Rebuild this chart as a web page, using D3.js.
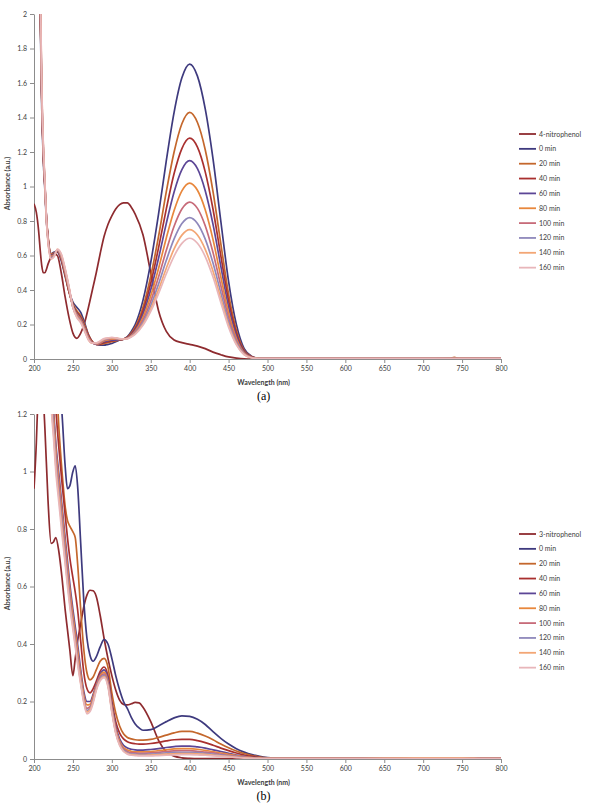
<!DOCTYPE html>
<html>
<head>
<meta charset="utf-8">
<script src="https://cdn.jsdelivr.net/npm/d3@7/dist/d3.min.js"></script>
<style>
body { margin: 0; background: #fff; }
svg text { font-family: Lato, "Open Sans", sans-serif; }
</style>
</head>
<body>
<div id="chart"></div>
<script>
// legend labels
var names_a = ['4-nitrophenol', '0 min', '20 min', '40 min', '60 min', '80 min', '100 min', '120 min', '140 min', '160 min'];
var names_b = ['3-nitrophenol', '0 min', '20 min', '40 min', '60 min', '80 min', '100 min', '120 min', '140 min', '160 min'];
var colors = ['#8E2B2F', '#3E3A7E', '#C4672C', '#A9302F', '#5C4696', '#E8873C', '#C76B79', '#8F88BB', '#F3A675', '#E8B6BA'];

var x_ticks = [200, 250, 300, 350, 400, 450, 500, 550, 600, 650, 700, 750, 800];
var y_ticks_a = [0, 0.2, 0.4, 0.6, 0.8, 1, 1.2, 1.4, 1.6, 1.8, 2];
var y_ticks_b = [0, 0.2, 0.4, 0.6, 0.8, 1, 1.2];

// (a) 4-nitrophenol
var wl_a = [200,203,206,208,210,212,214,216,218,222,226,230,235,240,245,250,255,260,265,270,275,280,285,290,295,300,305,310,315,320,325,330,340,350,360,370,380,390,400,410,420,430,440,450,460,470,480,490,500,550,600,650,700,735,740,745,800];
var a_np    = [0.9,0.85,0.74,0.63,0.54,0.5,0.5,0.52,0.55,0.59,0.61,0.6,0.5,0.36,0.24,0.15,0.12,0.15,0.21,0.3,0.4,0.5,0.61,0.71,0.78,0.83,0.87,0.895,0.905,0.905,0.88,0.84,0.72,0.5,0.28,0.16,0.11,0.095,0.085,0.075,0.06,0.04,0.025,0.012,0.005,0.001,0,0,0,0,0,0,0,0,0,0,0];
var a_0     = [4,3.2,2.4,2.0,1.45,1.15,0.98,0.8,0.7,0.61,0.62,0.62,0.57,0.48,0.39,0.33,0.3,0.27,0.21,0.14,0.1,0.085,0.08,0.08,0.085,0.09,0.1,0.11,0.115,0.13,0.16,0.2,0.34,0.56,0.84,1.15,1.43,1.63,1.71,1.64,1.45,1.16,0.8,0.45,0.2,0.06,0.015,0.003,0.002,0.002,0.002,0.002,0.002,0.002,0.002,0.002,0.002];
var a_20    = [4,3.25,2.45,2.05,1.5,1.18,1.0,0.82,0.71,0.61,0.615,0.625,0.58,0.49,0.39,0.32,0.28,0.25,0.2,0.14,0.1,0.085,0.085,0.09,0.095,0.1,0.105,0.11,0.115,0.127,0.15,0.184,0.3,0.48,0.71,0.97,1.2,1.364,1.43,1.371,1.213,0.97,0.669,0.376,0.167,0.05,0.013,0.003,0.002,0.002,0.002,0.002,0.002,0.004,0.009,0.004,0.002];
var a_40    = [4,3.25,2.5,2.05,1.5,1.18,1.0,0.82,0.71,0.6,0.61,0.625,0.58,0.49,0.39,0.31,0.27,0.24,0.19,0.135,0.1,0.085,0.088,0.095,0.1,0.105,0.108,0.11,0.115,0.125,0.145,0.176,0.278,0.439,0.644,0.87,1.075,1.22,1.28,1.228,1.085,0.868,0.599,0.337,0.15,0.045,0.012,0.003,0.002,0.002,0.002,0.002,0.002,0.002,0.002,0.002,0.002];
var a_60    = [4,3.3,2.5,2.1,1.52,1.2,1.01,0.82,0.7,0.6,0.61,0.63,0.585,0.5,0.4,0.31,0.265,0.235,0.185,0.13,0.095,0.085,0.09,0.1,0.105,0.11,0.11,0.112,0.115,0.123,0.14,0.168,0.26,0.402,0.584,0.786,0.968,1.098,1.15,1.103,0.975,0.78,0.538,0.302,0.135,0.04,0.01,0.003,0.002,0.002,0.002,0.002,0.002,0.002,0.002,0.002,0.002];
var a_80    = [4,3.3,2.55,2.1,1.52,1.2,1.01,0.81,0.7,0.595,0.605,0.63,0.59,0.5,0.4,0.305,0.26,0.23,0.18,0.125,0.095,0.087,0.092,0.105,0.11,0.115,0.115,0.113,0.115,0.121,0.137,0.161,0.241,0.366,0.525,0.702,0.861,0.975,1.02,0.978,0.865,0.692,0.477,0.268,0.119,0.036,0.009,0.003,0.002,0.002,0.002,0.002,0.002,0.002,0.002,0.002,0.002];
var a_100   = [4,3.35,2.55,2.15,1.55,1.22,1.02,0.81,0.69,0.59,0.6,0.632,0.595,0.51,0.41,0.3,0.255,0.225,0.175,0.12,0.093,0.088,0.095,0.11,0.115,0.12,0.118,0.115,0.115,0.12,0.134,0.155,0.225,0.335,0.475,0.63,0.77,0.87,0.91,0.873,0.772,0.617,0.426,0.239,0.106,0.032,0.008,0.002,0.002,0.002,0.002,0.002,0.002,0.002,0.002,0.002,0.002];
var a_120   = [4,3.35,2.6,2.15,1.55,1.22,1.02,0.8,0.69,0.585,0.6,0.633,0.6,0.515,0.41,0.3,0.25,0.22,0.17,0.115,0.092,0.09,0.1,0.112,0.118,0.122,0.12,0.116,0.116,0.119,0.132,0.15,0.212,0.31,0.434,0.572,0.696,0.785,0.82,0.786,0.695,0.556,0.384,0.216,0.096,0.029,0.007,0.002,0.002,0.002,0.002,0.002,0.002,0.002,0.002,0.002,0.002];
var a_140   = [4,3.4,2.6,2.2,1.58,1.24,1.03,0.8,0.68,0.58,0.595,0.635,0.605,0.52,0.415,0.3,0.245,0.215,0.165,0.112,0.092,0.092,0.102,0.115,0.12,0.123,0.121,0.117,0.116,0.118,0.13,0.146,0.202,0.29,0.402,0.526,0.638,0.718,0.75,0.719,0.636,0.509,0.351,0.197,0.088,0.026,0.007,0.002,0.002,0.002,0.002,0.002,0.002,0.002,0.002,0.002,0.002];
var a_160   = [4,3.4,2.65,2.2,1.58,1.24,1.03,0.8,0.68,0.58,0.595,0.636,0.61,0.525,0.42,0.3,0.24,0.21,0.16,0.11,0.092,0.093,0.105,0.118,0.122,0.125,0.122,0.118,0.116,0.117,0.128,0.143,0.195,0.276,0.379,0.494,0.597,0.67,0.7,0.671,0.594,0.475,0.328,0.184,0.082,0.025,0.006,0.002,0.002,0.002,0.002,0.002,0.002,0.002,0.002,0.002,0.002];

// (b) 3-nitrophenol
var wl_b = [200,203,205,208,211,214,218,222,225,228,232,236,240,243,246,250,253,256,260,264,268,272,276,280,285,290,295,300,305,310,315,320,325,330,335,340,350,360,370,380,390,400,410,420,430,440,450,460,470,480,490,500,510,520,550,600,650,700,750,780,800];
var b_np    = [0.94,1.1,1.25,1.35,1.3,1.15,0.9,0.75,0.755,0.77,0.72,0.63,0.52,0.45,0.38,0.29,0.35,0.41,0.47,0.53,0.57,0.587,0.585,0.565,0.5,0.42,0.35,0.29,0.24,0.205,0.19,0.188,0.192,0.197,0.195,0.18,0.13,0.065,0.025,0.01,0.004,0.002,0.001,0.001,0.001,0.001,0.001,0.001,0.001,0.001,0.001,0.001,0.001,0.001,0.001,0.001,0.001,0.001,0.001,0.001,0.001];
var b_0     = [4,3.6,3.3,3.0,2.7,2.4,2.1,1.8,1.6,1.45,1.32,1.2,1.02,0.94,0.95,1.0,1.02,0.95,0.75,0.55,0.42,0.36,0.34,0.355,0.39,0.415,0.4,0.35,0.29,0.24,0.2,0.175,0.145,0.122,0.108,0.1,0.102,0.115,0.13,0.143,0.15,0.148,0.138,0.12,0.095,0.072,0.052,0.036,0.024,0.015,0.009,0.005,0.003,0.002,0.002,0.002,0.002,0.002,0.002,0.002,0.002];
var b_20    = [4,3.6,3.3,3.0,2.7,2.4,2.0,1.7,1.5,1.35,1.15,1.0,0.88,0.83,0.81,0.79,0.77,0.68,0.52,0.38,0.3,0.275,0.285,0.31,0.34,0.35,0.32,0.23,0.16,0.115,0.088,0.075,0.07,0.067,0.066,0.066,0.068,0.075,0.083,0.091,0.096,0.096,0.09,0.08,0.067,0.052,0.039,0.028,0.019,0.012,0.007,0.004,0.003,0.003,0.003,0.003,0.003,0.004,0.004,0.003,0.002];
var b_40    = [4,3.6,3.3,3.0,2.6,2.3,1.9,1.5,1.35,1.22,1.08,0.96,0.85,0.77,0.7,0.63,0.58,0.52,0.41,0.3,0.245,0.23,0.245,0.27,0.305,0.32,0.29,0.2,0.13,0.09,0.07,0.06,0.055,0.053,0.052,0.052,0.054,0.058,0.063,0.067,0.068,0.068,0.064,0.057,0.048,0.038,0.029,0.021,0.014,0.009,0.005,0.003,0.002,0.002,0.002,0.002,0.002,0.002,0.003,0.002,0.002];
var b_60    = [4,3.6,3.3,3.0,2.6,2.2,1.8,1.35,1.22,1.1,0.99,0.88,0.77,0.69,0.61,0.52,0.46,0.4,0.31,0.235,0.2,0.2,0.225,0.26,0.295,0.31,0.28,0.19,0.115,0.07,0.048,0.038,0.034,0.032,0.031,0.031,0.033,0.036,0.04,0.043,0.045,0.045,0.042,0.038,0.032,0.026,0.02,0.014,0.01,0.006,0.004,0.002,0.002,0.002,0.002,0.002,0.002,0.002,0.002,0.002,0.002];
var b_80    = [4,3.6,3.3,3.0,2.6,2.2,1.8,1.32,1.2,1.08,0.97,0.86,0.75,0.67,0.59,0.5,0.44,0.38,0.295,0.222,0.188,0.19,0.218,0.255,0.29,0.302,0.27,0.18,0.105,0.062,0.04,0.031,0.027,0.025,0.025,0.025,0.026,0.029,0.032,0.035,0.036,0.036,0.034,0.03,0.026,0.021,0.016,0.012,0.008,0.005,0.003,0.002,0.002,0.002,0.002,0.002,0.003,0.004,0.004,0.002,0.002];
var b_100   = [4,3.6,3.3,3.0,2.6,2.2,1.8,1.3,1.18,1.06,0.95,0.84,0.73,0.65,0.57,0.48,0.42,0.36,0.28,0.212,0.176,0.182,0.21,0.25,0.285,0.296,0.265,0.175,0.1,0.057,0.035,0.026,0.022,0.021,0.02,0.02,0.021,0.023,0.026,0.028,0.029,0.029,0.027,0.024,0.021,0.017,0.013,0.01,0.007,0.004,0.002,0.001,0.001,0.001,0.001,0.001,0.001,0.001,0.001,0.001,0.001];
var b_120   = [4,3.6,3.3,3.0,2.6,2.2,1.75,1.28,1.16,1.04,0.93,0.82,0.71,0.63,0.55,0.47,0.41,0.35,0.27,0.205,0.169,0.176,0.205,0.246,0.28,0.291,0.26,0.17,0.095,0.053,0.031,0.022,0.018,0.017,0.016,0.016,0.017,0.019,0.021,0.023,0.023,0.023,0.022,0.02,0.017,0.014,0.011,0.008,0.005,0.003,0.002,0.001,0.001,0.001,0.001,0.001,0.001,0.001,0.001,0.001,0.001];
var b_140   = [4,3.6,3.3,3.0,2.6,2.2,1.75,1.26,1.14,1.02,0.91,0.8,0.69,0.615,0.54,0.46,0.4,0.34,0.265,0.2,0.163,0.171,0.2,0.242,0.276,0.287,0.256,0.166,0.092,0.05,0.028,0.019,0.015,0.014,0.013,0.013,0.014,0.015,0.017,0.018,0.019,0.019,0.018,0.016,0.014,0.011,0.009,0.006,0.004,0.003,0.002,0.001,0.001,0.001,0.001,0.001,0.002,0.003,0.003,0.001,0.001];
var b_160   = [4,3.6,3.3,3.0,2.6,2.2,1.7,1.24,1.12,1.0,0.89,0.78,0.68,0.6,0.53,0.45,0.39,0.33,0.26,0.195,0.157,0.165,0.195,0.238,0.272,0.283,0.252,0.162,0.089,0.047,0.026,0.017,0.013,0.012,0.011,0.011,0.011,0.012,0.013,0.014,0.015,0.015,0.014,0.013,0.011,0.009,0.007,0.005,0.003,0.002,0.001,0.001,0.001,0.001,0.001,0.001,0.001,0.001,0.001,0.001,0.001];

var width = 610, height = 803;
var plot_left = 34, plot_width = 467, plot_height = 345;
var axis_color = '#8c8c8c';

var svg = d3.select('#chart')
    .append('svg')
        .attr('width', width)
        .attr('height', height);

function draw_panel(id, top, y_max, y_ticks, wl, series, names, caption){
    var g = svg.append('g')
        .attr('transform', 'translate(' + plot_left + ',' + top + ')');

    var x_scale = d3.scaleLinear().domain([200, 800]).range([0, plot_width]);
    var y_scale = d3.scaleLinear().domain([0, y_max]).range([plot_height, 0]);

    g.append('clipPath')
        .attr('id', 'clip-' + id)
        .append('rect')
            .attr('x', 0)
            .attr('y', 0)
            .attr('width', plot_width)
            .attr('height', plot_height);

    var y_axis = g.append('g')
        .call(d3.axisLeft(y_scale).tickValues(y_ticks).tickSize(4).tickSizeOuter(0).tickFormat(d3.format('~g')));
    var x_axis = g.append('g')
        .attr('transform', 'translate(0,' + plot_height + ')')
        .call(d3.axisBottom(x_scale).tickValues(x_ticks).tickSize(4).tickSizeOuter(0));

    [x_axis, y_axis].forEach(function(ax){
        ax.select('.domain').attr('stroke', axis_color);
        ax.selectAll('.tick line').attr('stroke', axis_color);
        ax.selectAll('.tick text')
            .attr('fill', '#404040')
            .style('font-size', '7px')
            .style('font-family', 'Lato, sans-serif');
    });
    y_axis.selectAll('.tick text').attr('x', -7);
    x_axis.selectAll('.tick text').attr('y', 7);

    var line = d3.line()
        .x(function(d){ return x_scale(d[0]); })
        .y(function(d){ return y_scale(d[1]); })
        .curve(d3.curveMonotoneX);

    g.append('g')
        .attr('clip-path', 'url(#clip-' + id + ')')
        .selectAll('path')
        .data(series)
        .enter()
        .append('path')
            .attr('d', function(s){ return line(wl.map(function(w, i){ return [w, s[i]]; })); })
            .attr('fill', 'none')
            .attr('stroke', function(s, i){ return colors[i]; })
            .attr('stroke-width', 1.7)
            .attr('stroke-linejoin', 'round');

    // axis titles
    g.append('text')
        .attr('transform', 'translate(-24,' + (plot_height / 2 - 3) + ')rotate(-90)')
        .attr('text-anchor', 'middle')
        .style('font-size', '7px')
        .style('font-weight', 'bold')
        .attr('fill', '#404040')
        .text('Absorbance  (a.u.)');

    g.append('text')
        .attr('x', x_scale(495))
        .attr('y', plot_height + 26)
        .attr('text-anchor', 'middle')
        .style('font-size', '7px')
        .style('font-weight', 'bold')
        .attr('fill', '#404040')
        .text('Wavelength  (nm)');

    g.append('text')
        .attr('x', x_scale(495))
        .attr('y', plot_height + 41)
        .attr('text-anchor', 'middle')
        .style('font-family', '"Liberation Serif", serif')
        .style('font-size', '12px')
        .attr('fill', '#000')
        .text(caption);

    // legend
    var legend = svg.append('g')
        .attr('transform', 'translate(519,' + (top + 120) + ')');
    var rows = legend.selectAll('g')
        .data(names)
        .enter()
        .append('g')
            .attr('transform', function(d, i){ return 'translate(0,' + (i * 14.85) + ')'; });
    rows.append('line')
        .attr('x1', 0)
        .attr('x2', 17)
        .attr('stroke', function(d, i){ return colors[i]; })
        .attr('stroke-width', 1.8);
    rows.append('text')
        .attr('x', 20)
        .attr('y', 2.5)
        .style('font-size', '7px')
        .attr('fill', '#404040')
        .text(function(d){ return d; });
}

draw_panel('a', 14, 2, y_ticks_a, wl_a, [a_np, a_0, a_20, a_40, a_60, a_80, a_100, a_120, a_140, a_160], names_a, '(a)');
draw_panel('b', 414, 1.2, y_ticks_b, wl_b, [b_np, b_0, b_20, b_40, b_60, b_80, b_100, b_120, b_140, b_160], names_b, '(b)');
</script>
</body>
</html>
